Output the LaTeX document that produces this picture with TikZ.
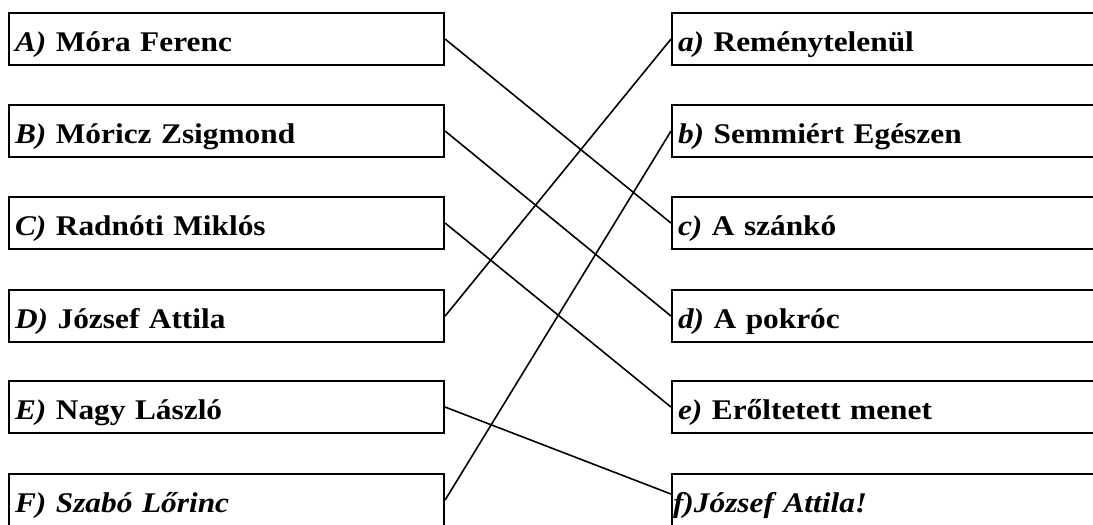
\documentclass[tikz,border=0pt]{standalone}
\usepackage{fontspec}
\setmainfont{Liberation Serif}[FakeStretch=1.1]
\begin{document}
\begin{tikzpicture}[x=1pt,y=-1pt,
  box/.style={draw,line width=2.1pt,rectangle,anchor=north west,minimum height=52pt,
    inner xsep=6pt,inner ysep=0pt,text height=26pt,text depth=2pt,align=left,
    font=\fontsize{28.5}{32}\selectfont\bfseries},
  lbox/.style={box,minimum width=435pt,text width=423pt},
  rbox/.style={box,minimum width=430pt,text width=418pt},
  conn/.style={line width=1.6pt}]
\useasboundingbox (0,0) rectangle (1093,525);
\clip (0,0) rectangle (1093,525);
\node[lbox] (A) at (8,12)  {\textit{A)} Móra Ferenc};
\node[lbox] (B) at (8,104) {\textit{B)} Móricz Zsigmond};
\node[lbox] (C) at (8,196) {\textit{C)} Radnóti Miklós};
\node[lbox] (D) at (8,289) {\textit{D)} József Attila};
\node[lbox] (E) at (8,380) {\textit{E)} Nagy László};
\node[lbox] (F) at (8,473) {\textit{F) Szabó Lőrinc}};
\node[rbox] (a) at (671,12)  {\textit{a)} Reménytelenül};
\node[rbox] (b) at (671,104) {\textit{b)} Semmiért Egészen};
\node[rbox] (c) at (671,196) {\textit{c)} A szánkó};
\node[rbox] (d) at (671,289) {\textit{d)} A pokróc};
\node[rbox] (e) at (671,380) {\textit{e)} Erőltetett menet};
\node[rbox] (f) at (671,473) {\hspace*{-5pt}\textit{f)József Attila!}};
\draw[conn] (A.east) -- (c.west);
\draw[conn] (B.east) -- (d.west);
\draw[conn] (C.east) -- (e.west);
\draw[conn] (D.east) -- (a.west);
\draw[conn] (E.east) -- ([yshift=6pt]f.west);
\draw[conn] (F.east) -- (b.west);
\end{tikzpicture}
\end{document}
